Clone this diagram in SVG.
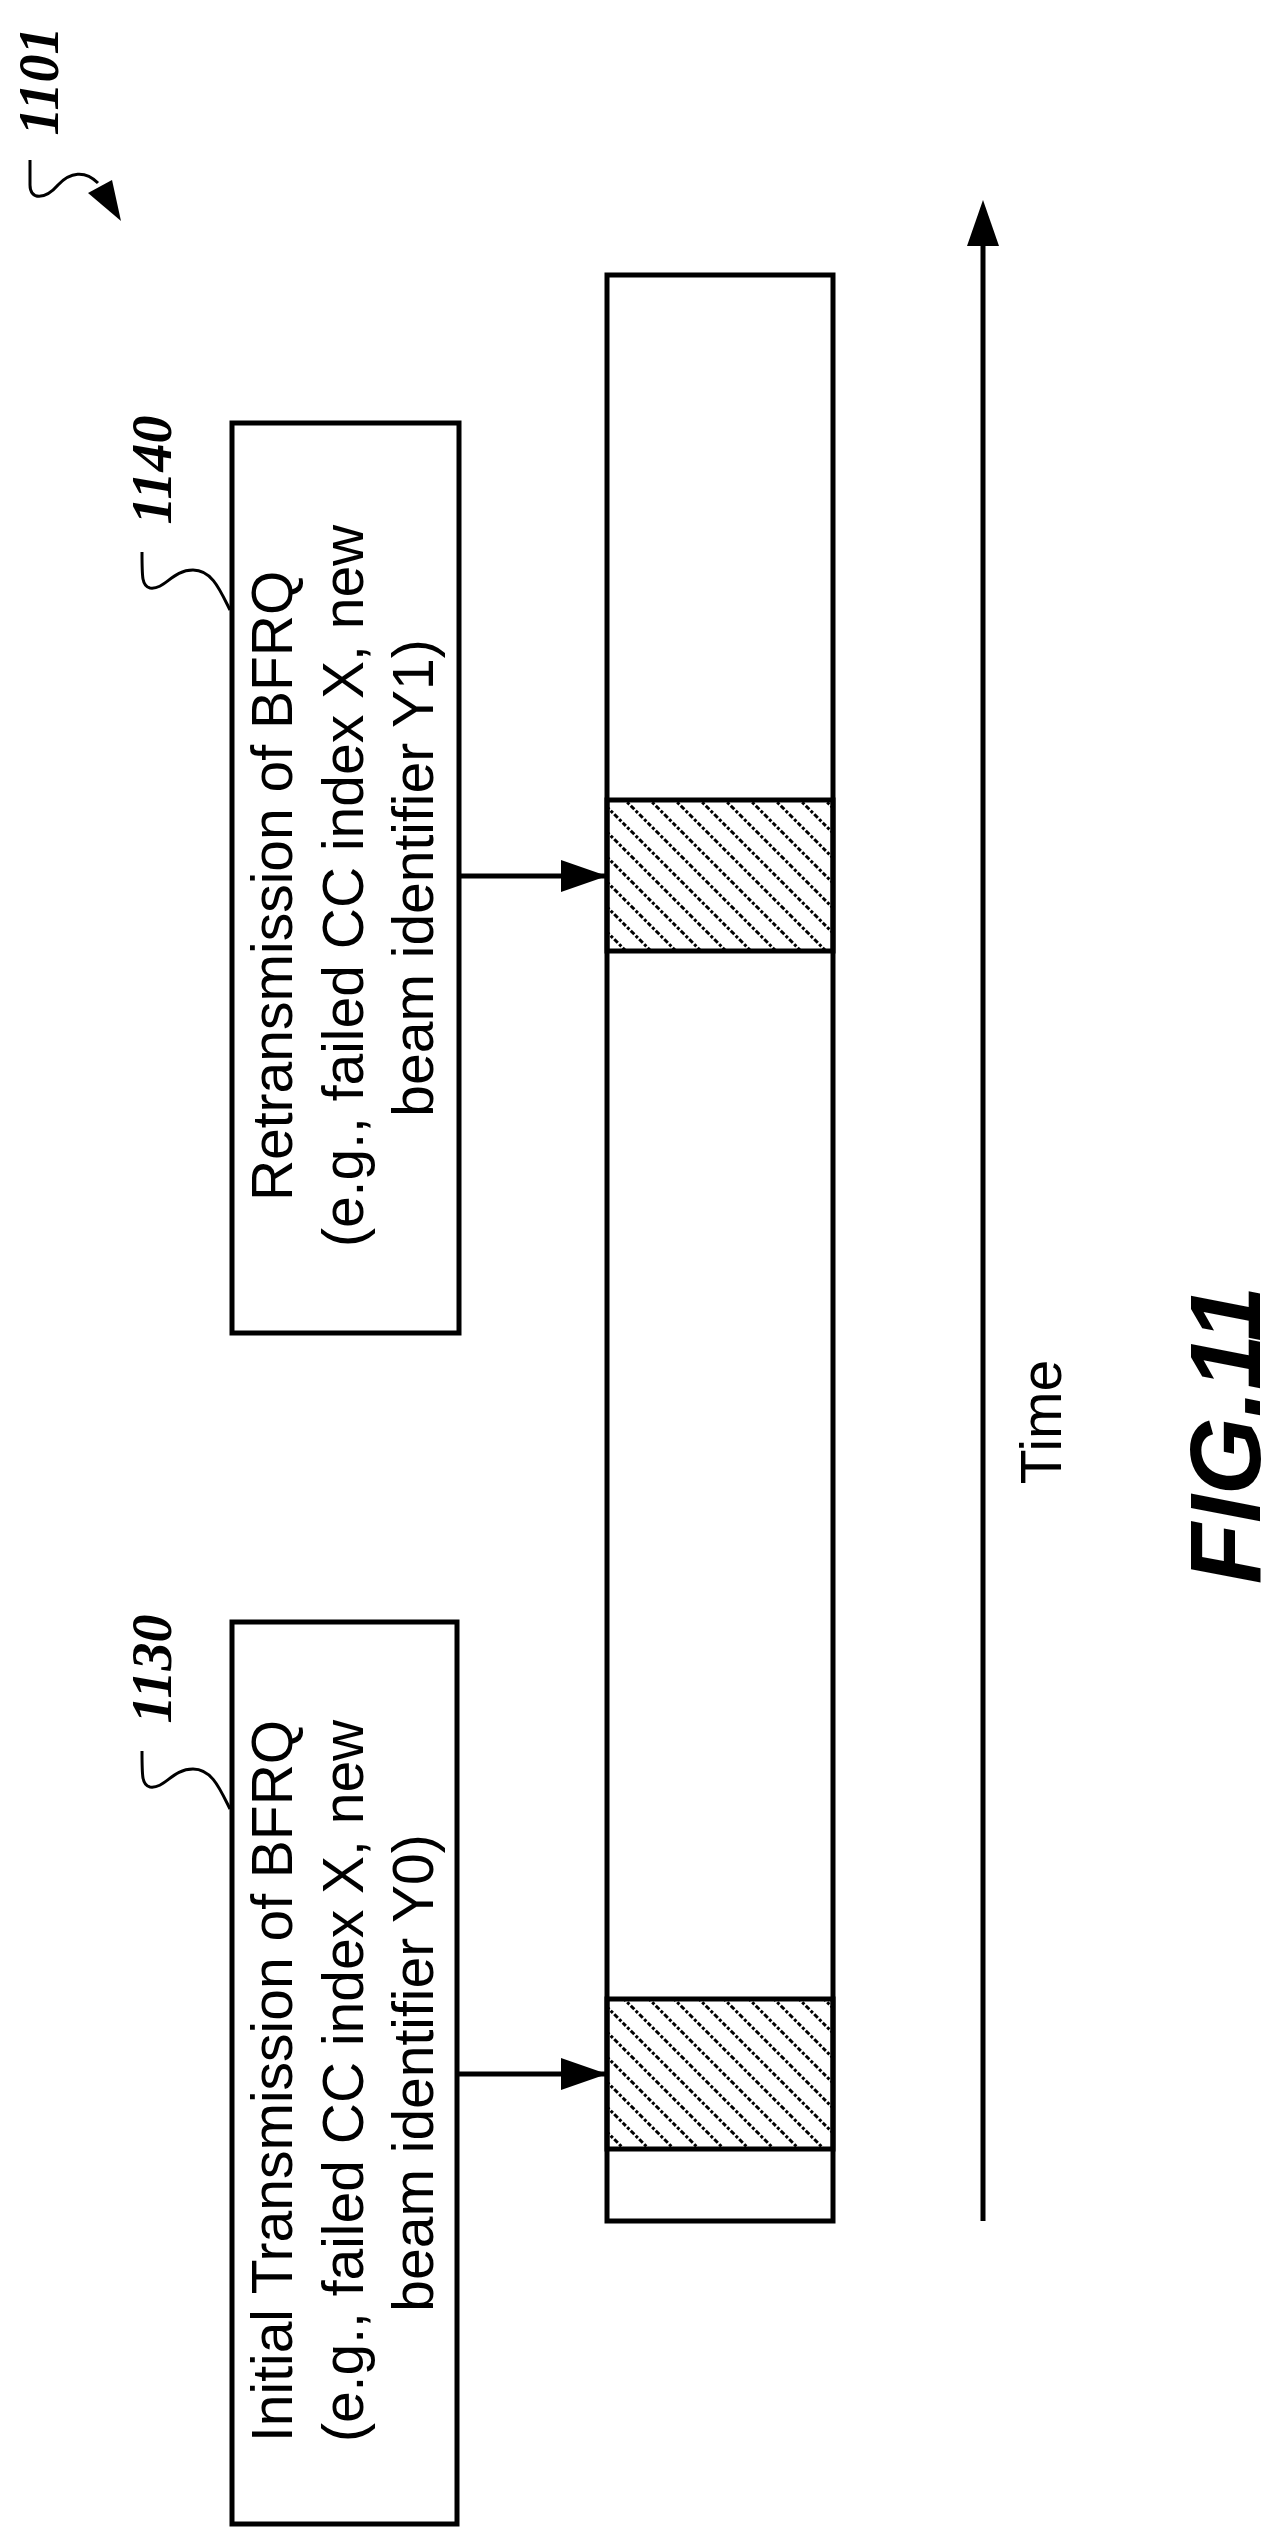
<svg xmlns="http://www.w3.org/2000/svg" width="1282" height="2548" viewBox="0 0 1282 2548">
<defs>
<pattern id="hatch" patternUnits="userSpaceOnUse" width="25" height="25">
<path d="M-6.25,18.75 L6.25,31.25 M-6.25,-6.25 L31.25,31.25 M18.75,-6.25 L31.25,6.25" stroke="#000" stroke-width="3" stroke-dasharray="3,2,5,2"/>
</pattern>
<marker id="ah" markerUnits="userSpaceOnUse" markerWidth="48" markerHeight="32" refX="46" refY="16" orient="auto">
<path d="M0,0 L46,16 L0,32 Z" fill="#000"/>
</marker>
</defs>
<style>
.box{fill:#fff;stroke:#000;stroke-width:5}
.ln{fill:none;stroke:#000;stroke-width:5}
.thin{fill:none;stroke:#000;stroke-width:3}
.t{font-family:"Liberation Sans",Arial,sans-serif;font-size:57px;fill:#000}
.ref{font-family:"Liberation Serif","Times New Roman",serif;font-size:56px;font-weight:bold;font-style:italic;fill:#000}
.fig{font-family:"Liberation Sans",Arial,sans-serif;font-size:100px;font-weight:bold;font-style:italic;fill:#000}
</style>
<rect width="1282" height="2548" fill="#fff"/>

<g id="ref1101">
<text class="ref" transform="translate(58,81) rotate(-90)" text-anchor="middle">1101</text>
<path class="thin" d="M30,160 L30,185 C30,200 45,200 58,185 C70,172 85,170 98,183"/>
<path d="M88,193 L112,180 L121,221 Z" fill="#000"/>
</g>

<g id="timeline">
<rect class="box" x="607" y="275" width="226" height="1946"/>
<rect x="607" y="800" width="226" height="151" fill="url(#hatch)" stroke="#000" stroke-width="5"/>
<rect x="607" y="1999" width="226" height="150" fill="url(#hatch)" stroke="#000" stroke-width="5"/>
</g>

<g id="time-axis">
<line class="ln" x1="983" y1="2221" x2="983" y2="244"/>
<path d="M983,200 L999,246 L967,246 Z" fill="#000"/>
<text class="t" transform="translate(1061,1422) rotate(-90)" text-anchor="middle">Time</text>
</g>

<g id="node1140">
<rect class="box" x="232" y="423" width="227" height="910"/>
<text class="t" text-anchor="middle" transform="translate(0,878) rotate(-90)">
<tspan x="0" y="292">Retransmission of BFRQ</tspan>
<tspan x="0" y="363">(e.g., failed CC index X, new</tspan>
<tspan x="0" y="433">beam identifier Y1)</tspan>
</text>
<text class="ref" transform="translate(171,470) rotate(-90)" text-anchor="middle">1140</text>
<path class="thin" d="M230,610 C220,590 212,570 193,570 C172,570 165,590 150,588 C142,586 142,578 142,552"/>
</g>

<g id="node1130">
<rect class="box" x="232" y="1622" width="225" height="902"/>
<text class="t" text-anchor="middle" transform="translate(0,2073) rotate(-90)">
<tspan x="0" y="292">Initial Transmission of BFRQ</tspan>
<tspan x="0" y="363">(e.g., failed CC index X, new</tspan>
<tspan x="0" y="433">beam identifier Y0)</tspan>
</text>
<text class="ref" transform="translate(171,1669) rotate(-90)" text-anchor="middle">1130</text>
<path class="thin" d="M230,1809 C220,1789 212,1769 193,1769 C172,1769 165,1789 150,1787 C142,1785 142,1777 142,1751"/>
</g>

<g id="connectors">
<line class="ln" x1="459" y1="876" x2="607" y2="876" marker-end="url(#ah)"/>
<line class="ln" x1="457" y1="2074" x2="607" y2="2074" marker-end="url(#ah)"/>
</g>

<g id="figlabel">
<text class="fig" transform="translate(1260,1435) rotate(-90)" text-anchor="middle">FIG.11</text>
</g>
</svg>
